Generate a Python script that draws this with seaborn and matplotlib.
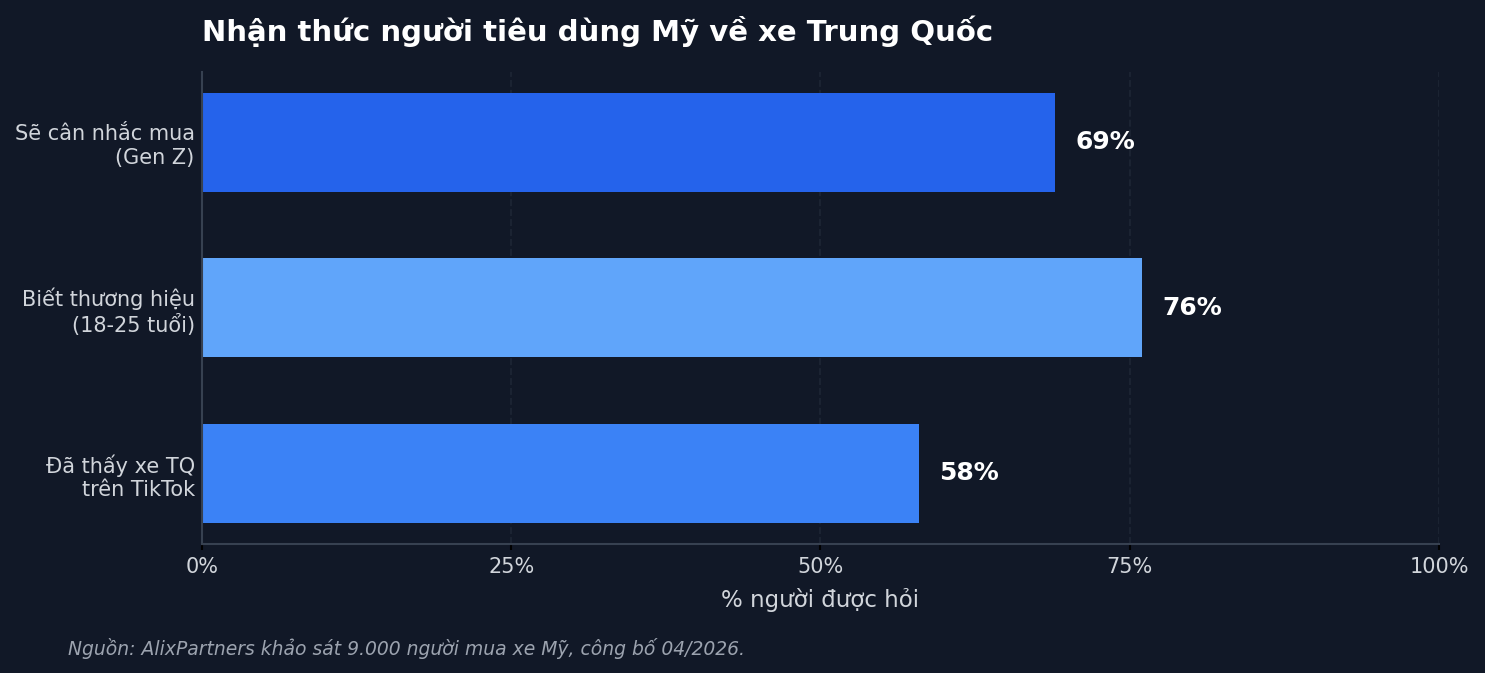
import pandas as pd
import seaborn as sns
import matplotlib.pyplot as plt
from matplotlib.ticker import PercentFormatter

categories = ['Sẽ cân nhắc mua\n(Gen Z)', 'Biết thương hiệu\n(18-25 tuổi)', 'Đã thấy xe TQ\ntrên TikTok']
values = [69, 76, 58]
colors = ['#2563EB', '#60A5FA', '#3B82F6']

df = pd.DataFrame({'nhom': categories, 'pct': values})

bg = '#111827'
sns.set_theme(style='dark')
plt.rcParams['font.family'] = ['DejaVu Sans']

fig, ax = plt.subplots(figsize=(9.9, 4.487), dpi=150)
fig.patch.set_facecolor(bg)
ax.set_facecolor(bg)
fig.subplots_adjust(left=0.136, right=0.969, top=0.893, bottom=0.192)

sns.barplot(data=df, x='pct', y='nhom', hue='nhom', palette=colors, orient='h',
            width=0.6, legend=False, ax=ax, saturation=1, linewidth=0, edgecolor='none')

# nhan gia tri
for i, v in enumerate(values):
    ax.text(v + 1.6, i, f'{v}%', va='center', ha='left', color='white',
            fontsize=12, fontweight='bold')

ax.set_xlim(0, 100)
ax.set_ylim(2.426, -0.426)
ax.set_xticks([0, 25, 50, 75, 100])
ax.xaxis.set_major_formatter(PercentFormatter(decimals=0))
ax.grid(axis='x', linestyle='--', color='#1c2433', linewidth=0.9)
ax.grid(axis='y', visible=False)
ax.set_axisbelow(True)

for s in ['top', 'right']:
    ax.spines[s].set_visible(False)
for s in ['left', 'bottom']:
    ax.spines[s].set_visible(True)
    ax.spines[s].set_color('#374151')
    ax.spines[s].set_linewidth(1.0)

ax.tick_params(axis='x', colors='#000000', labelcolor='#d1d5db', labelsize=10,
               length=3, width=1, bottom=True)
ax.tick_params(axis='y', labelcolor='#d1d5db', labelsize=10, length=0, pad=3.5)
ax.set_ylabel('')
ax.set_xlabel('% người được hỏi', color='#d1d5db', fontsize=11, labelpad=5)

ax.set_title('Nhận thức người tiêu dùng Mỹ về xe Trung Quốc', loc='left',
             color='white', fontsize=14, fontweight='bold', pad=15)

fig.text(0.046, 0.037, 'Nguồn: AlixPartners khảo sát 9.000 người mua xe Mỹ, công bố 04/2026.',
         color='#9ca3af', fontsize=9, style='italic', va='center')

fig.savefig('out.png', facecolor=bg)
